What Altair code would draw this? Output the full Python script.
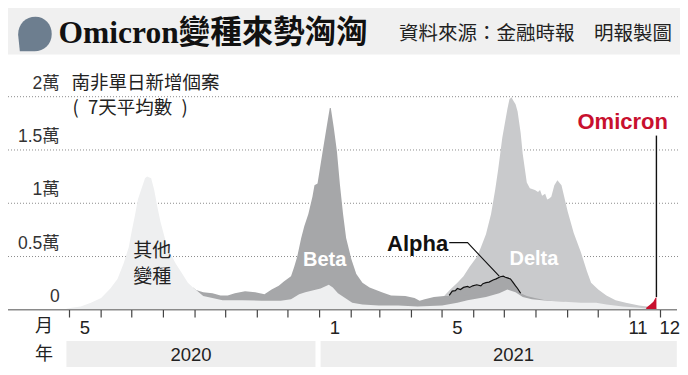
import altair as alt
import pandas as pd

W, H = 672, 359

# ---------------- data ----------------
# cumulative top of "other variants" layer
other_dates = ["2020-04-28","2020-05-03","2020-05-12","2020-05-22","2020-06-01","2020-06-10","2020-06-17","2020-06-23",
               "2020-06-28","2020-07-01","2020-07-04","2020-07-07","2020-07-11","2020-07-14","2020-07-16","2020-07-20",
               "2020-07-23","2020-07-26","2020-07-29","2020-08-03","2020-08-08","2020-08-13","2020-08-19","2020-08-25",
               "2020-08-30","2020-09-02","2020-09-09","2020-09-18","2020-09-28","2020-10-17","2020-11-05","2020-11-24",
               "2020-12-04","2020-12-12","2020-12-18","2020-12-25","2021-01-02","2021-01-10","2021-01-14","2021-01-19",
               "2021-01-26","2021-02-02","2021-02-12","2021-02-28","2021-03-19","2021-04-07","2021-05-01","2021-05-16",
               "2021-05-26","2021-06-13","2021-06-26","2021-07-04","2021-07-12","2021-07-19","2021-07-28","2021-08-12",
               "2021-08-29","2021-09-14","2021-09-29","2021-10-09","2021-10-25","2021-11-10","2021-11-18","2021-11-27"]
other_vals = [100,200,300,650,1100,2000,2900,4350,5850,7400,8800,10350,11500,12350,12500,
              12350,11250,9700,8300,6500,5250,4350,3450,2550,2100,1850,1300,1100,900,900,
              850,850,1000,1450,1650,1800,2000,2350,2100,1550,1100,650,500,400,400,
              300,400,650,900,1200,1550,1900,1650,1200,1000,850,750,650,650,500,300,200,100,100]

# cumulative top of Beta layer
beta_dates = ["2020-08-30","2020-09-02","2020-09-09","2020-09-18","2020-09-26","2020-10-03","2020-10-10","2020-10-20",
              "2020-10-30","2020-11-08","2020-11-15","2020-11-22","2020-11-27","2020-12-04","2020-12-07","2020-12-10",
              "2020-12-14","2020-12-17","2020-12-21","2020-12-25","2020-12-27","2020-12-30","2021-01-04","2021-01-09",
              "2021-01-11","2021-01-12","2021-01-15","2021-01-18","2021-01-21","2021-01-24","2021-01-27","2021-02-01",
              "2021-02-06","2021-02-12","2021-02-19","2021-03-03","2021-03-12","2021-03-26","2021-04-04","2021-04-09",
              "2021-04-14","2021-04-23","2021-05-03","2021-05-26","2021-06-13","2021-07-02","2021-07-12","2021-07-17",
              "2021-07-23","2021-07-31","2021-08-10","2021-08-19","2021-08-29"]
beta_vals = [2100,1850,1650,1550,1350,1350,1550,1750,1650,1450,1900,2250,2650,3150,4000,
             4950,6750,7850,9000,10600,11700,11850,14850,17800,18950,18950,17050,14850,11700,9000,
             6750,4800,3350,2550,2100,1650,1350,1300,1100,850,1000,1200,1300,1350,1550,
             1750,1650,1550,1300,1100,900,800,750]

# cumulative top of Alpha layer (black line)
alpha_dates = ["2021-05-08","2021-05-11","2021-05-14","2021-05-16","2021-05-19","2021-05-22","2021-05-26","2021-05-28",
               "2021-05-31","2021-06-04","2021-06-08","2021-06-10","2021-06-13","2021-06-16","2021-06-20","2021-06-23",
               "2021-06-27","2021-06-30","2021-07-02","2021-07-04","2021-07-07","2021-07-09","2021-07-12","2021-07-14",
               "2021-07-17"]
alpha_vals = [1350,1750,1800,2000,1900,2100,2200,2100,2250,2350,2250,2450,2550,2600,2800,2900,
              3100,3150,3050,3000,2900,2650,2250,2000,1550]

# total (top of Delta layer)
delta_dates = ["2021-05-03","2021-05-09","2021-05-16","2021-05-22","2021-05-28","2021-06-04","2021-06-08","2021-06-13",
               "2021-06-18","2021-06-22","2021-06-25","2021-06-29","2021-07-04","2021-07-06","2021-07-08","2021-07-10",
               "2021-07-12","2021-07-14","2021-07-17","2021-07-19","2021-07-23","2021-07-26","2021-07-31","2021-08-03",
               "2021-08-05","2021-08-07","2021-08-10","2021-08-12","2021-08-14","2021-08-16","2021-08-19","2021-08-22",
               "2021-08-26","2021-09-01","2021-09-07","2021-09-14","2021-09-20","2021-09-24","2021-10-01","2021-10-09",
               "2021-10-18","2021-10-28","2021-11-10","2021-11-18","2021-11-27"]
delta_vals = [1300,1900,2550,3150,4050,4950,5850,7100,9000,11250,13200,16150,18850,19750,19950,
              19600,19300,18600,16600,14650,11950,11400,11250,11050,11250,10700,10900,10350,10450,10600,
              11700,12150,11700,9250,7200,5400,3600,2550,1900,1350,900,650,400,300,200]

# Omicron
omicron_dates = ["2021-11-17","2021-11-21","2021-11-24","2021-11-26","2021-11-27"]
omicron_vals = [200,500,750,1100,1200]

y_ticks = [0, 5000, 10000, 15000, 20000]
y_tick_labels = ["0", "0.5萬", "1萬", "1.5萬", "2萬"]
grid_values = [5000, 10000, 15000, 20000]

month_starts = ["2020-05-01","2020-06-01","2020-07-01","2020-08-01","2020-09-01","2020-10-01","2020-11-01",
                "2020-12-01","2021-01-01","2021-02-01","2021-03-01","2021-04-01","2021-05-01","2021-06-01",
                "2021-07-01","2021-08-01","2021-09-01","2021-10-01","2021-11-01","2021-12-01"]
month_label_dates = ["2020-05-16","2021-01-16","2021-05-16","2021-11-09","2021-12-10"]
month_labels = ["5", "1", "5", "11", "12"]

year_labels = ["2020", "2021"]
year_starts = ["2020-04-28", "2021-01-02"]
year_ends = ["2020-12-28", "2021-12-17"]
year_mids = ["2020-08-28", "2021-07-10"]

# annotations (data space)
ann_white = pd.DataFrame({"date": ["2021-01-06", "2021-07-30"], "value": [4650, 4800], "t": ["Beta", "Delta"]})
ann_other = pd.DataFrame({"date": ["2020-07-21", "2020-07-21"], "value": [5500, 3100], "t": ["其他", "變種"]})
ann_alpha = pd.DataFrame({"date": ["2021-04-07"], "value": [6200], "t": ["Alpha"]})
leader = pd.DataFrame({"date": ["2021-05-08", "2021-05-26", "2021-06-26"], "value": [6300, 6300, 3150]})
ann_omi = pd.DataFrame({"date": ["2021-10-25"], "value": [17650], "t": ["Omicron"]})
omi_rule = pd.DataFrame({"date": ["2021-11-27"], "v1": [16350], "v2": [1200]})

# ---------------- scales ----------------
x_scale = alt.Scale(type="utc",
                    domain=[alt.DateTime(year=2020, month=5, date=1, utc=True),
                            alt.DateTime(year=2021, month=12, date=1, utc=True)],
                    range=[61.5, 652.5])
y_scale = alt.Scale(domain=[0, 20000], range=[301.8, 88.7], nice=False, zero=False)


def X(f="date"):
    return alt.X(f"{f}:T", scale=x_scale, axis=None)


def Y(f="value"):
    return alt.Y(f"{f}:Q", scale=y_scale, axis=None, stack=None)


SANS = "Liberation Sans, Noto Sans CJK TC"
CJK = "Noto Sans CJK TC"

layers = []

# title bar
layers.append(alt.Chart(pd.DataFrame({"a": [0]})).mark_rect(color="#f0f0f0").encode(
    x=alt.value(0), x2=alt.value(W), y=alt.value(0), y2=alt.value(46.5)))

# year bands
yb = pd.DataFrame({"start": year_starts, "end": year_ends, "mid": year_mids, "t": year_labels})
layers.append(alt.Chart(yb).mark_rect(color="#eeeeee").encode(
    x=X("start"), x2=alt.X2("end:T"), y=alt.value(333.1), y2=alt.value(H)))
layers.append(alt.Chart(yb).mark_text(font=SANS, fontSize=18.5, color="#222", baseline="middle").encode(
    x=X("mid"), y=alt.value(346.5), text="t:N"))

# gridlines
layers.append(alt.Chart(pd.DataFrame({"v": grid_values})).mark_rule(
    color="#8c8c8c", strokeWidth=1, strokeDash=[1, 2]).encode(
    y=Y("v"), x=alt.value(0), x2=alt.value(W)))

# areas (painted back to front)
def area(dates, vals, color):
    return alt.Chart(pd.DataFrame({"date": dates, "value": vals})).mark_area(
        color=color, opacity=1, interpolate="linear").encode(x=X(), y=Y())

layers.append(area(delta_dates, delta_vals, "#c9cacc"))
layers.append(area(alpha_dates, alpha_vals, "#a6a7a9"))
layers.append(area(beta_dates, beta_vals, "#a6a7a9"))
layers.append(area(other_dates, other_vals, "#eeeff0"))
layers.append(area(omicron_dates, omicron_vals, "#c8102e"))

# alpha line
layers.append(alt.Chart(pd.DataFrame({"date": alpha_dates, "value": alpha_vals})).mark_line(
    color="#111", strokeWidth=1.2, interpolate="linear").encode(x=X(), y=Y()))

# axis line and ticks
layers.append(alt.Chart(pd.DataFrame({"v": [0]})).mark_rule(color="#8a8a8a", strokeWidth=1.6).encode(
    y=Y("v"), x=alt.value(0), x2=alt.value(669)))
layers.append(alt.Chart(pd.DataFrame({"date": month_starts})).mark_rule(color="#444", strokeWidth=1.2).encode(
    x=X(), y=alt.value(302), y2=alt.value(309.5)))

# y labels
layers.append(alt.Chart(pd.DataFrame({"v": y_ticks, "t": y_tick_labels})).mark_text(
    font=SANS, fontSize=17.5, color="#333", align="right", baseline="middle", dy=-13).encode(
    y=Y("v"), x=alt.value(51.8), text="t:N"))

# month labels
layers.append(alt.Chart(pd.DataFrame({"date": month_label_dates, "t": month_labels})).mark_text(
    font=SANS, fontSize=18.5, color="#222", baseline="middle").encode(
    x=X(), y=alt.value(319.7), text="t:N"))

# 月 / 年
layers.append(alt.Chart(pd.DataFrame({"t": ["月"]})).mark_text(
    font=CJK, fontSize=18, color="#222", baseline="middle").encode(
    x=alt.value(36), y=alt.value(319), text="t:N"))
layers.append(alt.Chart(pd.DataFrame({"t": ["年"]})).mark_text(
    font=CJK, fontSize=18, color="#222", baseline="middle").encode(
    x=alt.value(36), y=alt.value(346.5), text="t:N"))

# chart subtitle
layers.append(alt.Chart(pd.DataFrame({"t": ["南非單日新增個案"]})).mark_text(
    font=CJK, fontSize=18.5, color="#222", align="left", baseline="middle").encode(
    x=alt.value(63.5), y=alt.value(75), text="t:N"))
layers.append(alt.Chart(pd.DataFrame({"t": ["(\u20027天平均數\u2002)"]})).mark_text(
    font=CJK, fontSize=18.5, color="#222", align="left", baseline="middle").encode(
    x=alt.value(64.5), y=alt.value(99.5), text="t:N"))

# annotations
layers.append(alt.Chart(ann_other).mark_text(
    font=CJK, fontSize=19, color="#222", baseline="middle").encode(
    x=X(), y=Y(), text="t:N"))
layers.append(alt.Chart(ann_white).mark_text(
    font=SANS, fontSize=20, fontWeight="bold", color="white", baseline="middle").encode(
    x=X(), y=Y(), text="t:N"))
layers.append(alt.Chart(ann_alpha).mark_text(
    font=SANS, fontSize=22, fontWeight="bold", color="#111", baseline="middle").encode(
    x=X(), y=Y(), text="t:N"))
layers.append(alt.Chart(leader).mark_line(color="#111", strokeWidth=1.1).encode(x=X(), y=Y()))
layers.append(alt.Chart(ann_omi).mark_text(
    font=SANS, fontSize=22, fontWeight="bold", color="#c8102e", baseline="middle").encode(
    x=X(), y=Y(), text="t:N"))
layers.append(alt.Chart(omi_rule).mark_rule(color="#111", strokeWidth=1.4).encode(
    x=X(), y=Y("v1"), y2=alt.Y2("v2:Q")))

# header: blob, title, source
blob = "M-0.85,1 L-0.95,0.05 C-0.95,-0.6 -0.5,-1 0.05,-1 C0.6,-1 1,-0.55 1,0 C1,0.6 0.55,1 0,1 Z"
layers.append(alt.Chart(pd.DataFrame({"a": [0]})).mark_point(
    shape=blob, filled=True, color="#6d7e8f", opacity=1, size=1190, strokeWidth=0).encode(
    x=alt.value(26.5), y=alt.value(26)))
layers.append(alt.Chart(pd.DataFrame({"t": ["Omicron變種來勢洶洶"]})).mark_text(
    font="Liberation Serif, Noto Sans CJK TC", fontSize=31.5, fontWeight="bold", color="#111",
    align="left", baseline="middle").encode(x=alt.value(50.5), y=alt.value(25.5), text="t:N"))
layers.append(alt.Chart(pd.DataFrame({"t": ["資料來源：金融時報　明報製圖"]})).mark_text(
    font=CJK, fontSize=19.5, color="#222", align="right", baseline="middle").encode(
    x=alt.value(664), y=alt.value(26), text="t:N"))

chart = alt.layer(*layers).properties(
    width=W, height=H, padding=0,
    autosize=alt.AutoSizeParams(type="none"),
    background="white",
).configure_view(stroke=None)

chart.save("out.html", embed_options={"renderer": "svg", "actions": False})
